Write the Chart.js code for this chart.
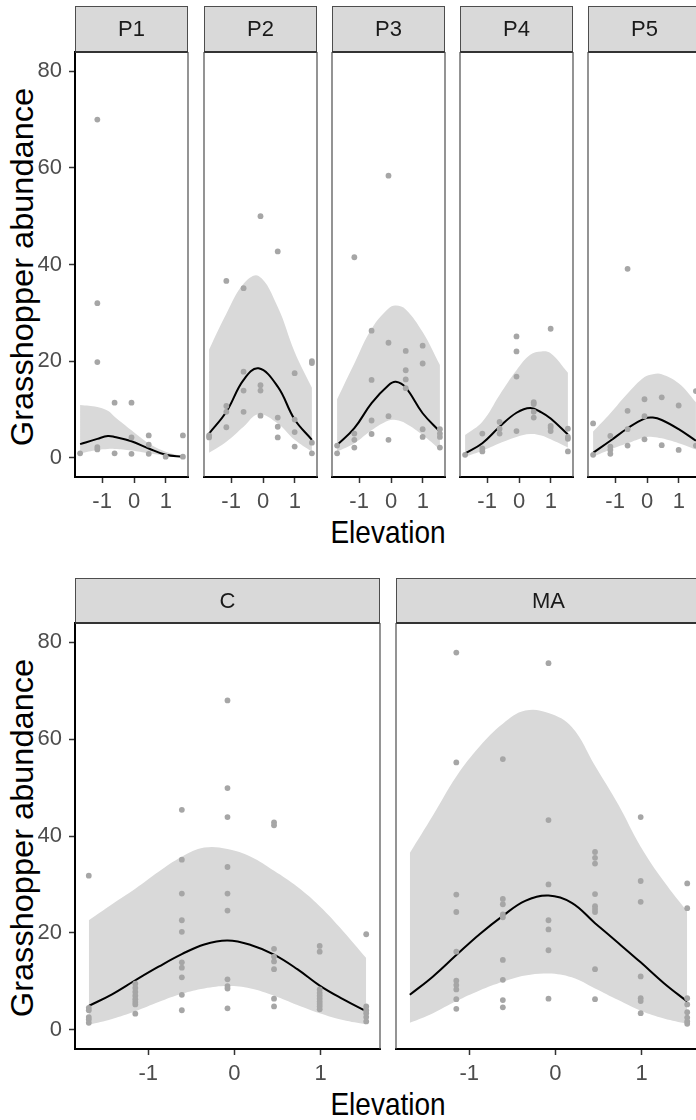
<!DOCTYPE html>
<html>
<head>
<meta charset="utf-8">
<script src="https://cdn.jsdelivr.net/npm/chart.js@4.4.1/dist/chart.umd.min.js"></script>
<style>
  html, body { margin: 0; padding: 0; width: 696px; height: 1120px; overflow: hidden; background: #fff; }
  canvas { position: absolute; }
  .title { position: absolute; font-family: "Liberation Sans", Arial, sans-serif; color: #000; white-space: nowrap; line-height: 1; transform: translate(-50%, -50%) scaleY(1.1); }
  .ytitle { transform: translate(-50%, -50%) rotate(-90deg) scaleX(1.05); }
</style>
</head>
<body>
<div class="title ytitle" style="left:22px; top:267px; font-size:31px;">Grasshopper abundance</div>
<div class="title" style="left:388px; top:533px; font-size:28px;">Elevation</div>
<div class="title ytitle" style="left:22px; top:838px; font-size:31px;">Grasshopper abundance</div>
<div class="title" style="left:388px; top:1105px; font-size:28px;">Elevation</div>
<script>
// elevation levels where abundance was sampled
const levels = [-1.69, -1.15, -0.61, -0.08, 0.46, 0.99, 1.53];
const xTicks = [-1, 0, 1];
const yTicks = [0, 20, 40, 60, 80];
const xMin = -1.85, xMax = 1.69;
const yMin = -4, yMax = 84;

// observed abundance, one list per elevation level
const p1Obs = [[0.9], [70, 32, 19.8, 2.2, 1.7], [11.4, 0.9], [11.4, 4.2, 0.8], [4.6, 2.7, 0.8], [0.2], [4.6, 0.2]];
const p2Obs = [[4.6, 4.2], [36.6, 10.7, 9.5, 6.3], [35.1, 17.8, 13.9, 9.5], [50.0, 15.0, 13.9, 8.7], [42.7, 8.3, 6.4, 4.2], [17.5, 7.9, 5.3, 2.3], [20.0, 19.6, 3.1, 0.9]];
const p3Obs = [[2.5, 0.9], [41.5, 5.0, 3.7, 2.1], [26.3, 16.1, 7.7, 4.9], [58.4, 23.8, 8.6, 3.7], [22.1, 18.1, 16.2, 14.4], [23.2, 19.5, 5.9, 4.3], [5.9, 5.0, 4.3, 2.1]];
const p4Obs = [[0.6], [5.0, 1.9, 1.3], [7.4, 6.0, 5.0], [25.1, 22.0, 16.8, 5.5], [11.5, 11.1, 9.5, 8.3], [26.7, 6.6, 6.2, 5.5], [6.0, 4.3, 3.9, 1.3]];
const p5Obs = [[7.1, 0.6], [4.5, 2.3, 1.6, 0.8], [39.1, 9.7, 5.9, 2.5], [12.1, 8.6, 3.8], [12.5, 2.6], [10.8, 1.6], [13.8, 2.5]];
const cObs = [[31.8, 4.5, 4.0, 2.6, 2.1, 1.4], [9.5, 8.6, 7.8, 7.0, 6.3, 5.7, 5.2, 3.3], [45.4, 35.1, 28.1, 22.6, 20.2, 13.9, 12.8, 10.8, 7.2, 4.0], [68.0, 49.9, 43.9, 33.6, 28.1, 24.6, 10.4, 9.0, 8.5, 4.4], [42.8, 42.2, 16.7, 15.1, 14.1, 12.5, 6.4, 4.8], [17.3, 16.1, 8.3, 7.6, 7.0, 6.4, 5.8, 5.3, 4.8, 4.2], [19.7, 4.8, 4.0, 3.4, 2.6, 1.7]];
const maObs = [[], [77.9, 55.2, 27.9, 24.3, 16.1, 10.1, 9.2, 8.3, 6.3, 4.3], [55.9, 27.0, 25.9, 23.8, 23.2, 14.4, 10.3, 6.1, 4.6], [75.7, 43.3, 30.0, 22.6, 20.7, 16.4, 6.4], [36.7, 35.5, 34.3, 28.0, 25.5, 24.9, 24.3, 12.5, 6.3], [43.9, 30.7, 26.4, 11.0, 6.5, 5.9, 3.4], [30.2, 25.1, 6.5, 5.2, 3.6, 2.5, 1.7, 1.2]];

// fitted curve and confidence band
const p1FitX = [-1.69, -1.15, -0.82, -0.61, -0.08, 0.46, 0.99, 1.53];
const p1Fit = [2.8, 3.9, 4.5, 4.3, 3.4, 1.9, 0.6, 0.2];
const p1Lo = [0.9, 1.6, 1.8, 1.8, 1.5, 0.9, 0.4, 0.1];
const p1Hi = [10.9, 10.5, 9.7, 8.5, 5.7, 3.0, 1.25, 0.3];

const p2FitX = [-1.69, -1.15, -0.61, -0.14, 0.46, 0.99, 1.53];
const p2Fit = [5.0, 9.5, 16.1, 18.5, 14.7, 7.9, 3.7];
const p2Lo = [1.0, 3.3, 6.4, 9.0, 7.1, 3.7, 1.25];
const p2Hi = [22.4, 29.8, 36.0, 37.6, 31.2, 21.9, 14.5];

const p3FitX = [-1.69, -1.15, -0.61, -0.08, 0.15, 0.46, 0.99, 1.53];
const p3Fit = [2.6, 6.1, 11.3, 15.0, 15.7, 14.5, 9.2, 5.4];
const p3Lo = [1.25, 3.0, 5.7, 7.7, 7.8, 7.1, 4.7, 1.7];
const p3Hi = [12.1, 19.5, 26.7, 30.9, 31.5, 30.7, 26.0, 19.2];

const p4FitX = [-1.69, -1.15, -0.61, -0.08, 0.35, 0.70, 0.99, 1.53];
const p4Fit = [0.9, 3.0, 6.4, 9.3, 10.3, 9.4, 8.1, 4.8];
const p4Lo = [0.2, 1.45, 3.0, 4.3, 4.9, 4.6, 3.8, 2.1];
const p4Hi = [4.7, 7.45, 13.0, 18.1, 21.3, 22.0, 21.6, 17.6];

const p5FitX = [-1.69, -1.15, -0.61, -0.08, 0.18, 0.46, 0.99, 1.53];
const p5Fit = [1.0, 3.5, 6.1, 8.1, 8.3, 7.8, 5.9, 3.5];
const p5Lo = [0.2, 1.7, 3.0, 4.2, 4.3, 4.0, 3.0, 1.7];
const p5Hi = [5.4, 9.2, 13.3, 16.7, 17.3, 17.3, 15.4, 11.5];

const bigFitX = [-1.69, -1.42, -1.15, -0.88, -0.61, -0.35, -0.08, 0.19, 0.46, 0.73, 0.99, 1.26, 1.53];
const cFit = [4.9, 7.3, 10.2, 13.0, 15.6, 17.6, 18.4, 17.5, 15.5, 12.5, 9.1, 6.3, 3.8];
const cLo = [1.0, 2.2, 3.8, 5.7, 7.4, 8.5, 9.0, 8.5, 7.0, 5.1, 3.4, 2.0, 1.1];
const cHi = [22.6, 25.9, 29.1, 32.6, 35.7, 37.6, 37.3, 35.7, 32.8, 29.5, 25.5, 20.4, 14.8];

const maFit = [7.2, 11.0, 15.4, 19.7, 23.5, 26.6, 27.7, 26.2, 22.0, 17.9, 13.9, 9.6, 5.8];
const maLo = [1.4, 3.4, 5.9, 8.1, 9.9, 11.2, 11.6, 10.8, 8.5, 6.1, 3.9, 2.3, 1.2];
const maHi = [36.5, 44.3, 52.3, 58.5, 63.2, 65.9, 65.4, 62.5, 54.5, 46.5, 37.8, 30.6, 24.4];

const family = '"Liberation Sans", Arial, sans-serif';

// grey facet strip above the panel + panel border
const stripPlugin = {
  id: 'strip',
  beforeDraw(chart, args, opts) {
    const a = chart.chartArea, ctx = chart.ctx, h = opts.height;
    ctx.save();
    ctx.fillStyle = '#D9D9D9';
    ctx.fillRect(a.left, a.top - h, a.right - a.left, h);
    ctx.strokeStyle = '#4D4D4D';
    ctx.lineWidth = 1;
    ctx.strokeRect(a.left + 0.5, a.top - h + 0.5, a.right - a.left - 1, h);
    ctx.fillStyle = '#1A1A1A';
    ctx.font = '22px ' + family;
    ctx.textAlign = 'center';
    ctx.textBaseline = 'middle';
    ctx.fillText(opts.label, (a.left + a.right) / 2, a.top - h / 2 + 1);
    ctx.restore();
  },
  afterDraw(chart, args, opts) {
    const a = chart.chartArea, ctx = chart.ctx;
    ctx.save();
    ctx.strokeStyle = '#333333';
    ctx.lineWidth = 2;
    ctx.beginPath();
    ctx.moveTo(a.left, a.top);
    ctx.lineTo(a.right, a.top);
    ctx.stroke();
    ctx.strokeStyle = '#4D4D4D';
    ctx.lineWidth = 1.2;
    ctx.beginPath();
    ctx.moveTo(a.right, a.top);
    ctx.lineTo(a.right, a.bottom);
    if (!opts.yAxis) {
      ctx.moveTo(a.left, a.top);
      ctx.lineTo(a.left, a.bottom);
    }
    ctx.stroke();
    ctx.restore();
  }
};

function drawPanel(p) {
  const yW = p.yAxis ? 75 : 4;
  const canvas = document.createElement('canvas');
  canvas.width = yW + p.width + 3;
  canvas.height = p.stripH + p.plotH + 45;
  canvas.style.left = (p.left - yW) + 'px';
  canvas.style.top = p.top + 'px';
  document.body.appendChild(canvas);

  const pts = [];
  p.obs.forEach((vals, i) => vals.forEach(v => pts.push({ x: levels[i], y: v })));
  const curve = arr => p.fitX.map((x, i) => ({ x: x, y: arr[i] }));
  const tickFont = { family: family, size: 22 };
  const smooth = { pointRadius: 0, tension: 0.4 };

  new Chart(canvas, {
    type: 'line',
    data: {
      datasets: [
        { data: pts, showLine: false, pointRadius: 2.9, pointBackgroundColor: '#A6A6A6', pointBorderWidth: 0, order: 0 },
        Object.assign({ data: curve(p.lo), borderColor: 'rgba(0,0,0,0)', borderWidth: 0, fill: false, order: 3 }, smooth),
        Object.assign({ data: curve(p.hi), borderColor: 'rgba(0,0,0,0)', borderWidth: 0, fill: '-1', backgroundColor: '#D9D9D9', order: 2 }, smooth),
        Object.assign({ data: curve(p.fit), borderColor: '#000', borderWidth: 2, fill: false, order: 1 }, smooth)
      ]
    },
    options: {
      responsive: false,
      animation: false,
      events: [],
      layout: { padding: { top: p.stripH, right: 3, bottom: 0, left: p.yAxis ? 0 : 4 } },
      plugins: {
        legend: { display: false },
        tooltip: { enabled: false },
        strip: { label: p.label, height: p.stripH, yAxis: p.yAxis }
      },
      scales: {
        x: {
          type: 'linear', min: xMin, max: xMax,
          afterBuildTicks: s => { s.ticks = xTicks.map(v => ({ value: v })); },
          afterFit: s => { s.height = 45; },
          grid: { drawOnChartArea: false, tickLength: 6, tickColor: '#333', tickWidth: 1.5 },
          border: { color: '#000', width: 2 },
          ticks: { color: '#4D4D4D', font: tickFont, padding: 6, maxRotation: 0, callback: v => String(v) }
        },
        y: {
          type: 'linear', min: yMin, max: yMax, display: p.yAxis,
          afterBuildTicks: s => { s.ticks = yTicks.map(v => ({ value: v })); },
          afterFit: s => { s.width = p.yAxis ? 75 : 0; },
          grid: { drawOnChartArea: false, tickLength: 6, tickColor: '#333', tickWidth: 1.5 },
          border: { color: '#000', width: 2 },
          ticks: { color: '#4D4D4D', font: tickFont, padding: 7, callback: v => String(v) }
        }
      }
    },
    plugins: [stripPlugin]
  });
}

const topLefts = [75, 204, 332, 460, 588];
const topPanels = [
  { label: 'P1', obs: p1Obs, fitX: p1FitX, fit: p1Fit, lo: p1Lo, hi: p1Hi },
  { label: 'P2', obs: p2Obs, fitX: p2FitX, fit: p2Fit, lo: p2Lo, hi: p2Hi },
  { label: 'P3', obs: p3Obs, fitX: p3FitX, fit: p3Fit, lo: p3Lo, hi: p3Hi },
  { label: 'P4', obs: p4Obs, fitX: p4FitX, fit: p4Fit, lo: p4Lo, hi: p4Hi },
  { label: 'P5', obs: p5Obs, fitX: p5FitX, fit: p5Fit, lo: p5Lo, hi: p5Hi }
];
topPanels.forEach((p, i) => drawPanel(Object.assign({
  left: topLefts[i], width: 114, top: 6, stripH: 46, plotH: 425, yAxis: i === 0
}, p)));

const bottomLefts = [75, 396];
const bottomPanels = [
  { label: 'C', obs: cObs, fitX: bigFitX, fit: cFit, lo: cLo, hi: cHi },
  { label: 'MA', obs: maObs, fitX: bigFitX, fit: maFit, lo: maLo, hi: maHi }
];
bottomPanels.forEach((p, i) => drawPanel(Object.assign({
  left: bottomLefts[i], width: 306, top: 578, stripH: 45, plotH: 426, yAxis: i === 0
}, p)));
</script>
</body>
</html>
